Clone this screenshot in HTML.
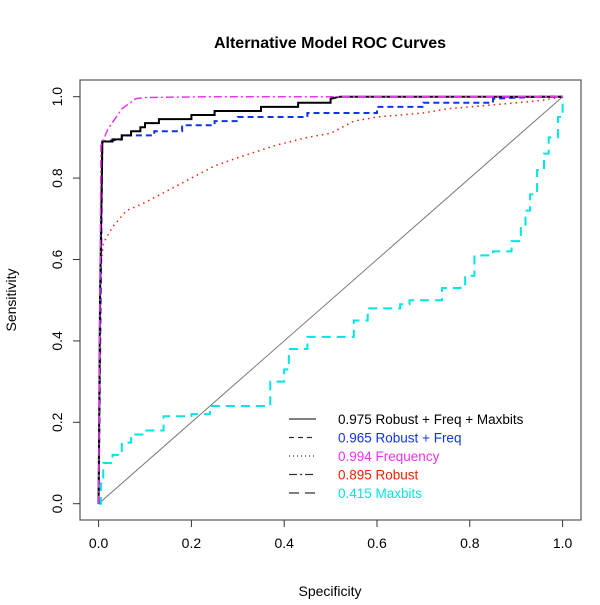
<!DOCTYPE html>
<html><head><meta charset="utf-8"><style>
body{margin:0;background:#fff}
svg text{font-family:"Liberation Sans",Helvetica,sans-serif}
</style></head><body>
<svg id="chart" width="600" height="600" xmlns="http://www.w3.org/2000/svg">
<text x="330" y="48" text-anchor="middle" font-size="16" font-weight="bold">Alternative Model ROC Curves</text>
<rect x="80" y="80" width="501" height="440" fill="none" stroke="#555" stroke-width="1.2"/>
<text x="330" y="596" text-anchor="middle" font-size="14">Specificity</text>
<text transform="translate(16,300) rotate(-90)" text-anchor="middle" font-size="14">Sensitivity</text>
<g id="axes"></g>
<g id="series"></g>
<g id="legend"></g>
</svg>
<script>
const xTicks=[0,0.2,0.4,0.6,0.8,1.0];
const yTicks=[0,0.2,0.4,0.6,0.8,1.0];
const seriesNames=["0.975 Robust + Freq + Maxbits","0.965 Robust + Freq","0.994 Frequency","0.895 Robust","0.415 Maxbits"];
const blackSpec=[0,0.003,0.008,0.03,0.03,0.05,0.05,0.07,0.07,0.09,0.09,0.1,0.1,0.13,0.13,0.2,0.2,0.25,0.25,0.35,0.35,0.43,0.43,0.5,0.5,0.52,1];
const blackSens=[0,0.5,0.89,0.89,0.895,0.895,0.905,0.905,0.915,0.915,0.925,0.925,0.935,0.935,0.945,0.945,0.955,0.955,0.965,0.965,0.975,0.975,0.985,0.985,0.995,1,1];
const blueSpec=[0,0.008,0.05,0.05,0.12,0.12,0.18,0.18,0.25,0.25,0.3,0.3,0.45,0.45,0.6,0.6,0.7,0.7,0.85,0.85,0.95,1];
const blueSens=[0,0.89,0.895,0.905,0.905,0.915,0.915,0.93,0.93,0.94,0.94,0.95,0.95,0.96,0.96,0.975,0.975,0.985,0.985,0.995,1,1];
const magSpec=[0,0.005,0.02,0.05,0.08,0.1,0.25,1];
const magSens=[0,0.88,0.92,0.97,0.995,0.998,1,1];
const redSpec=[0,0.005,0.01,0.03,0.06,0.1,0.15,0.2,0.25,0.3,0.38,0.45,0.5,0.55,0.6,0.7,0.75,0.85,0.95,1];
const redSens=[0,0.58,0.64,0.68,0.72,0.74,0.77,0.8,0.83,0.85,0.88,0.9,0.91,0.94,0.95,0.96,0.97,0.98,0.99,1];
const cyanSpec=[0,0.005,0.01,0.03,0.05,0.07,0.1,0.14,0.14,0.2,0.24,0.36,0.37,0.4,0.41,0.45,0.54,0.55,0.58,0.65,0.67,0.73,0.74,0.78,0.79,0.81,0.85,0.89,0.91,0.92,0.93,0.945,0.96,0.97,0.99,1];
const cyanSens=[0,0.05,0.1,0.12,0.15,0.17,0.18,0.2,0.215,0.22,0.24,0.24,0.3,0.33,0.38,0.41,0.41,0.45,0.48,0.49,0.5,0.5,0.53,0.535,0.56,0.61,0.62,0.645,0.68,0.72,0.76,0.82,0.86,0.9,0.95,1];

const NS="http://www.w3.org/2000/svg";
const X=v=>98.6+v*464, Y=v=>503.7-v*407;
function mk(tag,attrs,parent){const e=document.createElementNS(NS,tag);for(const k in attrs)e.setAttribute(k,attrs[k]);parent.appendChild(e);return e;}
const axes=document.getElementById('axes');
xTicks.forEach(t=>{
  const l=mk('line',{x1:X(t),x2:X(t),y1:520,y2:527,stroke:'#333'},axes);
  
  
  const tx=mk('text',{x:X(t),y:548,'text-anchor':'middle','font-size':14},axes);tx.textContent=t.toFixed(1);
  
  
});
yTicks.forEach(t=>{
  const l=mk('line',{x1:73,x2:80,y1:Y(t),y2:Y(t),stroke:'#333'},axes);
  
  
  const tx=mk('text',{transform:`translate(62,${Y(t)}) rotate(-90)`,'text-anchor':'middle','font-size':14},axes);tx.textContent=t.toFixed(1);
  
  
});
const ser=document.getElementById('series');
const diag=mk('line',{x1:X(0),y1:Y(0),x2:X(1),y2:Y(1),stroke:'#777','stroke-width':1},ser);


function curve(xs,ys,color,dash,name,w,step){
  const pts=[];
  xs.forEach((x,i)=>{
    if(step&&i>0)pts.push(X(x)+','+Y(ys[i-1]));
    pts.push(X(x)+','+Y(ys[i]));
  });
  const p=mk('polyline',{points:pts.join(' '),fill:'none',stroke:color,'stroke-width':w||2,'stroke-dasharray':dash},ser);
  
  
}
curve(cyanSpec,cyanSens,'#00e5e5','9,6','maxbits-curve',2,true);
curve(redSpec,redSens,'#ee2200','1.5,4','robust-curve',1.5);
curve(blueSpec,blueSens,'#1133ee','6,4','robust-freq-curve');
curve(blackSpec,blackSens,'#000','','robust-freq-maxbits-curve');
curve(magSpec,magSens,'#ee33ee','8,3,2,3','frequency-curve',1.5);
const lg=document.getElementById('legend');
const colors=['#000','#1133ee','#ee33ee','#ee2200','#00e5e5'];
const dashes=['','5,4','1,3','8,3,2,3','10,6'];
seriesNames.forEach((n,i)=>{
  const y=419+i*18.5;
  const l=mk('line',{x1:289,x2:316,y1:y,y2:y,stroke:'#333','stroke-width':1.2,'stroke-dasharray':dashes[i]},lg);
  
  
  const t=mk('text',{x:338,y:y+5,'font-size':13.5,fill:colors[i]},lg);t.textContent=n;
  
  
});
</script>
</body></html>
